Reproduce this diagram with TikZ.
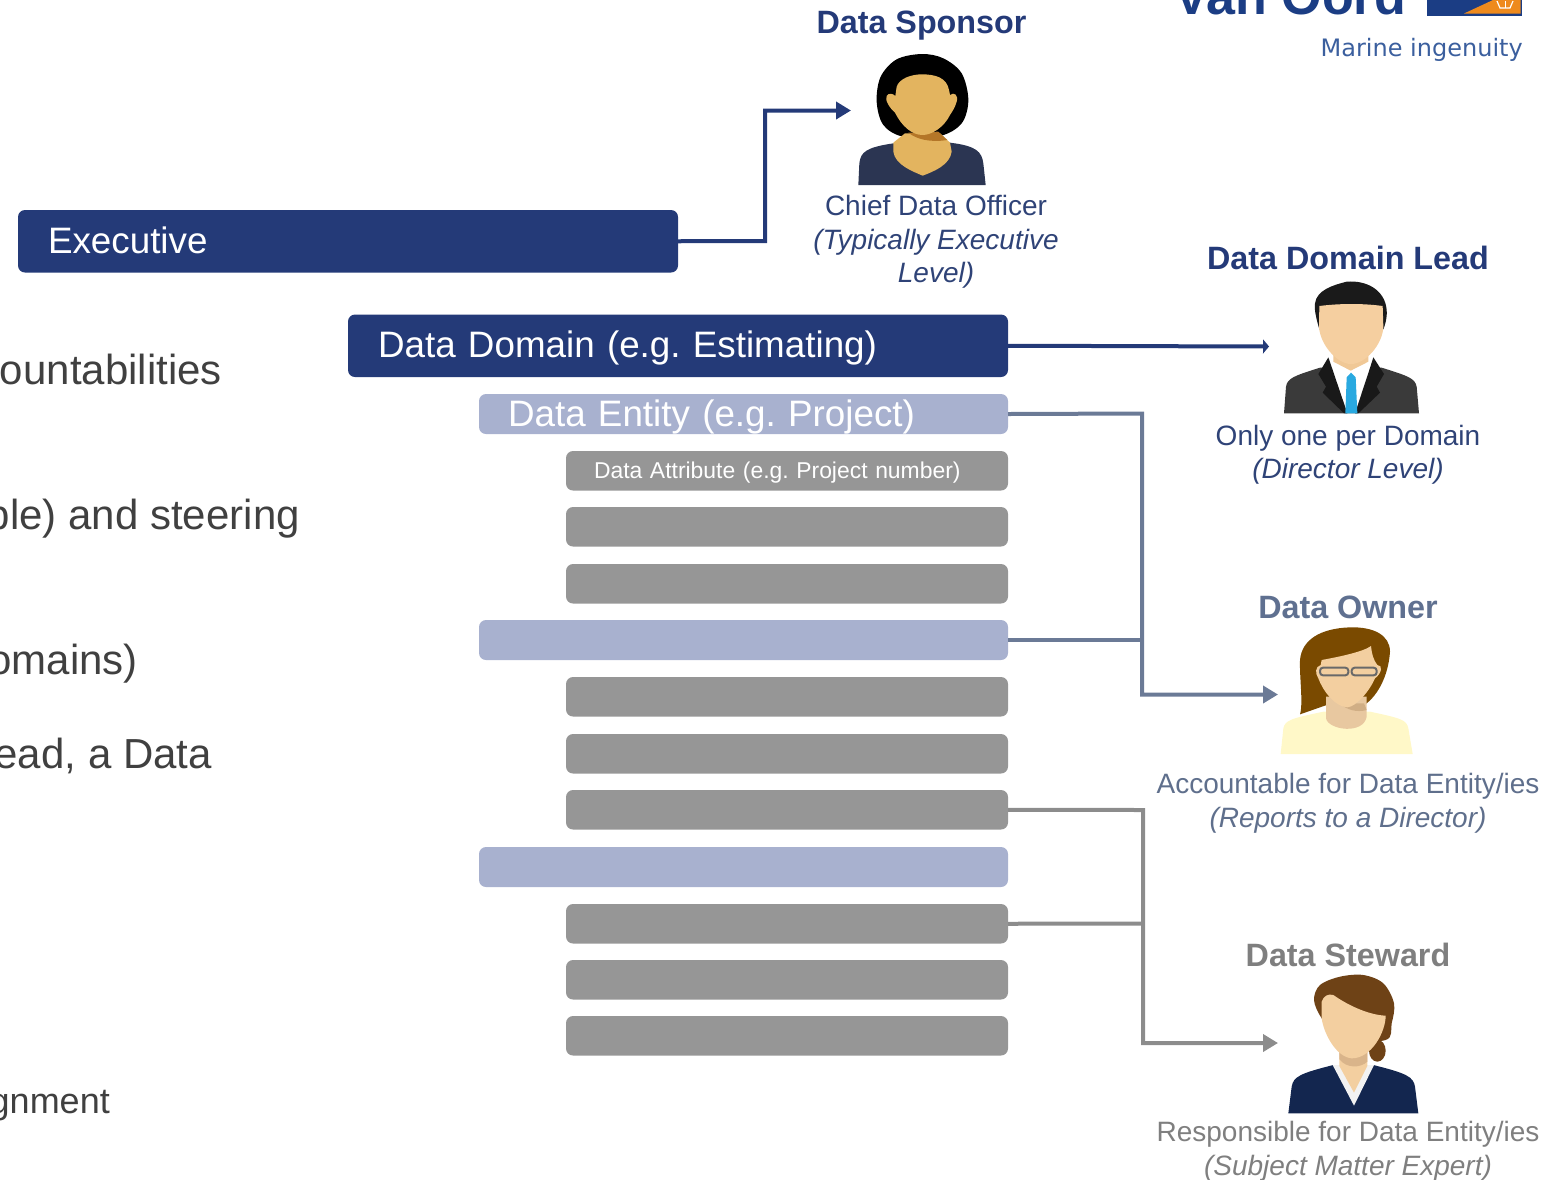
\documentclass[tikz,border=0pt]{standalone}
\usepackage{fontspec}
\setmainfont{Liberation Sans}
\newfontfamily\logofont{DejaVu Sans}
\usetikzlibrary{arrows.meta}
\definecolor{navy}{HTML}{243A78}
\definecolor{entity}{HTML}{A8B1CF}
\definecolor{attr}{HTML}{969696}
\definecolor{bodytxt}{HTML}{404040}
\definecolor{ownerc}{HTML}{6B7A96}
\definecolor{stewc}{HTML}{8C8C8C}
\definecolor{headown}{HTML}{5F7090}
\definecolor{headste}{HTML}{7F7F7F}
\definecolor{subnavy}{HTML}{2F4377}
\definecolor{subown}{HTML}{5F6F8C}
\definecolor{logoblue}{HTML}{1B3D84}
\definecolor{logoor}{HTML}{EE8A1D}
\tikzset{
  x=1pt,y=-1pt,
  barbase/.style={rounded corners=7pt,inner ysep=0pt,outer sep=0pt,anchor=north west,align=left},
  execbar/.style={barbase,fill=navy,text=white,font=\fontsize{36.8}{40}\selectfont,minimum height=62.5pt,inner xsep=30pt,minimum width=660pt,text width=600pt,text height=30pt,text depth=6pt},
  entbar/.style={barbase,fill=entity,text=white,font=\fontsize{36.8}{40}\selectfont,minimum height=40pt,inner xsep=29pt,minimum width=529pt,text width=471pt,text height=30pt,text depth=6pt},
  attrbar/.style={barbase,fill=attr,text=white,font=\fontsize{22.9}{26}\selectfont,minimum height=39.5pt,inner xsep=28pt,minimum width=442pt,text width=386pt,text height=20pt,text depth=4pt},
  head/.style={inner sep=0pt,font=\fontsize{32.3}{36}\bfseries\selectfont,anchor=base},
  sub/.style={inner sep=0pt,align=center,font=\fontsize{28}{33.7}\selectfont,anchor=north},
  lefttxt/.style={inner sep=0pt,text=bodytxt,anchor=base east,font=\fontsize{42}{46}\selectfont},
  navyline/.style={draw=navy,line width=4pt,line join=miter},
  ownline/.style={draw=ownerc,line width=4pt,line join=miter},
  steline/.style={draw=stewc,line width=4pt,line join=miter},
  tip/.style={-{Triangle[length=15pt,width=17pt]}},
  sm/.style={smooth cycle,tension=0.55}
}
\begin{document}
\begin{tikzpicture}
\frenchspacing
\useasboundingbox (0,0) rectangle (1565,1179);
\clip (0,0) rectangle (1565,1179);

% left text
\node[lefttxt] (t1) at (222,384) {ountabilities};
\node[lefttxt] (t2) at (300,529) {ble) and steering};
\node[lefttxt] (t3) at (138,674) {omains)};
\node[lefttxt] (t4) at (212,768) {ead, a Data};
\node[lefttxt,font=\fontsize{36}{40}\selectfont] (t5) at (110,1113) {gnment};

% bars
\node[execbar] (exec) at (18,210) {Executive};
\node[execbar] (domain) at (348,314.5) {Data Domain (e.g. Estimating)};
\node[entbar] (ent1) at (479,394) {Data Entity (e.g. Project)};
\node[attrbar] (a1) at (566,451) {Data Attribute (e.g. Project number)};
\node[attrbar] (a2) at (566,507) {};
\node[attrbar] (a3) at (566,564) {};
\node[entbar] (ent2) at (479,620) {};
\node[attrbar] (a4) at (566,677) {};
\node[attrbar] (a5) at (566,734) {};
\node[attrbar] (a6) at (566,790) {};
\node[entbar] (ent3) at (479,847) {};
\node[attrbar] (a7) at (566,904) {};
\node[attrbar] (a8) at (566,960) {};
\node[attrbar] (a9) at (566,1016) {};

% connector ends
\coordinate (sponsorin) at (851,110.5);
\coordinate (leadin) at (1269,346.5);
\coordinate (ownerin) at (1278,694.5);
\coordinate (stewin) at (1278,1043);

\draw[navyline,tip] (exec.east) -- (765,241) -- (765,110.5) -- (sponsorin);
\draw[navyline,-{Triangle[length=6pt,width=14pt]}] (domain.east) -- (leadin);
\draw[ownline,tip] (ent1.east) -- (1142,413.5) -- (1142,694.5) -- (ownerin);
\draw[ownline] (ent2.east) -- (1142,640);
\draw[steline,tip] (a6.east) -- (1143,810) -- (1143,1043) -- (stewin);
\draw[steline] (a7.east) -- (1143,923.5);

% Data Sponsor figure
\begin{scope}[shift={(840,40)},scale=1/3]
  \fill[fill={rgb,255:red,43;green,53;blue,82}] (55,435) -- (58,370) .. controls (62,335) and (80,322) .. (160,310) -- (330,308) .. controls (410,318) and (425,335) .. (430,370) -- (437,435) -- cycle;
  \fill[fill=black] plot[sm] coordinates {(245,42)(170,58)(122,110)(110,185)(130,255)(190,290)(300,288)(365,250)(385,180)(365,100)(310,55)};
  \fill[fill={rgb,255:red,227;green,180;blue,95}] (195,280) -- (160,308) -- (160,335) .. controls (165,375) and (220,395) .. (248,407) .. controls (280,395) and (330,375) .. (335,335) -- (330,308) -- (300,280) -- cycle;
  \fill[fill={rgb,255:red,180;green,118;blue,40}] (205,278) .. controls (230,298) and (270,308) .. (322,300) -- (295,275) -- cycle;
  \fill[fill={rgb,255:red,227;green,180;blue,95}] (170,140) .. controls (178,115) and (215,103) .. (245,103) .. controls (285,103) and (320,112) .. (327,150) -- (330,165) .. controls (342,155) and (356,165) .. (350,185) .. controls (344,205) and (338,212) .. (330,225) .. controls (312,262) and (275,285) .. (248,285) .. controls (215,285) and (185,258) .. (165,218) .. controls (150,205) and (133,180) .. (140,168) .. controls (146,158) and (158,160) .. (166,168) -- cycle;
\end{scope}

% Data Domain Lead figure
\begin{scope}[shift={(1200,270)},scale=1/3]
  \fill[fill={rgb,255:red,58;green,58;blue,58}] (252,430) -- (258,350) .. controls (262,325) and (280,318) .. (360,293) -- (545,293) .. controls (625,318) and (645,325) .. (650,350) -- (657,430) -- cycle;
  \fill[fill=white] (385,255) -- (432,430) -- (475,430) -- (520,255) -- cycle;
  \fill[fill={rgb,255:red,240;green,200;blue,150}] (400,230) -- (400,275) -- (452,302) -- (505,275) -- (505,230) -- cycle;
  \fill[fill=black!90] (385,262) -- (355,312) -- (378,350) -- (368,368) -- (432,430) -- (442,430) -- (398,300) -- cycle;
  \fill[fill=black!90] (520,262) -- (552,312) -- (530,350) -- (540,368) -- (475,430) -- (465,430) -- (508,300) -- cycle;
  \fill[fill={rgb,255:red,41;green,169;blue,224}] (440,322) -- (453,308) -- (467,322) -- (472,430) -- (436,430) -- cycle;
  \fill[fill={rgb,255:red,26;green,26;blue,26}] (358,178) .. controls (350,150) and (342,120) .. (345,100) .. controls (350,60) and (400,45) .. (440,35) .. controls (500,30) and (555,60) .. (560,120) .. controls (562,145) and (555,165) .. (550,178) -- cycle;
  \fill[fill={rgb,255:red,245;green,207;blue,160}] (358,108) .. controls (420,100) and (490,100) .. (548,108) -- (550,170) .. controls (548,225) and (495,282) .. (453,282) .. controls (412,282) and (360,225) .. (357,170) -- cycle;
\end{scope}

% Data Owner figure
\begin{scope}[shift={(1240,610)},scale=1/3]
  \fill[fill={rgb,255:red,255;green,248;blue,200}] (122,432) -- (130,355) .. controls (135,330) and (155,325) .. (250,305) -- (390,305) .. controls (485,325) and (500,330) .. (505,355) -- (518,432) -- cycle;
  \fill[fill={rgb,255:red,122;green,74;blue,0}] (180,313) .. controls (190,280) and (178,200) .. (180,150) .. controls (185,90) and (240,55) .. (330,52) .. controls (400,50) and (450,75) .. (450,125) .. controls (445,200) and (410,265) .. (365,290) -- (260,285) -- cycle;
  \fill[fill={rgb,255:red,232;green,200;blue,160}] (258,260) -- (258,325) .. controls (265,360) and (370,375) .. (380,320) -- (380,260) -- cycle;
  \fill[fill={rgb,255:red,208;green,174;blue,133}] (300,280) -- (372,280) -- (380,300) .. controls (350,308) and (320,300) .. (300,280) -- cycle;
  \fill[fill={rgb,255:red,243;green,207;blue,160}] (245,150) .. controls (300,140) and (370,125) .. (393,108) .. controls (395,130) and (400,150) .. (412,165) .. controls (430,165) and (425,190) .. (405,205) .. controls (390,240) and (350,290) .. (322,292) .. controls (285,290) and (250,245) .. (235,205) .. controls (225,190) and (225,170) .. (242,165) -- cycle;
  \draw[draw={rgb,255:red,105;green,105;blue,105},line width=2pt,rounded corners=3pt] (240,173) rectangle (325,196);
  \draw[draw={rgb,255:red,105;green,105;blue,105},line width=2pt,rounded corners=3pt] (335,173) rectangle (410,196);
\end{scope}

% Data Steward figure
\begin{scope}[shift={(1240,960)},scale=1/3]
  \fill[fill={rgb,255:red,19;green,38;blue,79}] (145,460) -- (155,380) .. controls (160,350) and (180,340) .. (280,315) -- (400,315) .. controls (500,340) and (520,350) .. (525,380) -- (535,460) -- cycle;
  \fill[fill=white!95!black] (278,315) -- (342,437) -- (402,315) -- cycle;
  \fill[fill={rgb,255:red,243;green,207;blue,160}] (298,270) -- (298,318) -- (342,398) -- (382,318) -- (382,270) -- cycle;
  \fill[fill={rgb,255:red,110;green,66;blue,22}] (412,272) ellipse (25 and 33);
  \fill[fill={rgb,255:red,110;green,66;blue,22}] plot[sm] coordinates {(245,175)(222,120)(240,75)(300,50)(370,45)(430,70)(462,130)(455,190)(437,240)(300,240)};
  \fill[fill={rgb,255:red,217;green,180;blue,138}] (298,270) -- (382,270) -- (382,305) .. controls (360,325) and (320,325) .. (298,298) -- cycle;
  \fill[fill={rgb,255:red,243;green,207;blue,160}] (245,125) .. controls (250,108) and (265,100) .. (280,105) .. controls (330,140) and (390,165) .. (437,167) .. controls (437,215) and (395,295) .. (335,295) .. controls (285,290) and (250,215) .. (245,175) -- cycle;
\end{scope}

% headings
\node[head,text=navy] (hsp) at (921.5,33) {Data Sponsor};
\node[head,text=navy] (hle) at (1348,269.5) {Data Domain Lead};
\node[head,text=headown] (how) at (1348,618) {Data Owner};
\node[head,text=headste] (hst) at (1348,966.5) {Data Steward};

% captions
\node[sub,text=subnavy] (c1) at (936,195) {Chief Data Officer\\\textit{(Typically Executive}\\\textit{Level)}};
\node[sub,text=subnavy] (c2) at (1348,424.5) {Only one per Domain\\\textit{(Director Level)}};
\node[sub,text=subown] (c3) at (1348,773) {Accountable for Data Entity/ies\\\textit{(Reports to a Director)}};
\node[sub,text=headste] (c4) at (1348,1121) {Responsible for Data Entity/ies\\\textit{(Subject Matter Expert)}};

% logo
\node[inner sep=0pt,anchor=base east,text=logoblue,font=\fontsize{52}{56}\bfseries\selectfont] (vo) at (1406,14.5) {Van Oord};
\fill[logoblue] (1427,-5) rectangle (1522,15.5);
\fill[logoor] (1464,13.5) -- (1493,0) -- (1504,-5) -- (1520.5,-5) -- (1520.5,13.5) -- cycle;
\draw[white,line width=1.2pt] (1497,1) -- (1500,8) -- (1510,8) -- (1513,1);
\draw[white,line width=1pt] (1505,1) -- (1505,8);
\node[inner sep=0pt,anchor=base east,text={rgb,255:red,59;green,95;blue,158},font=\logofont\fontsize{24}{26}\selectfont] (mi) at (1523,56) {Marine ingenuity};
\end{tikzpicture}
\end{document}
